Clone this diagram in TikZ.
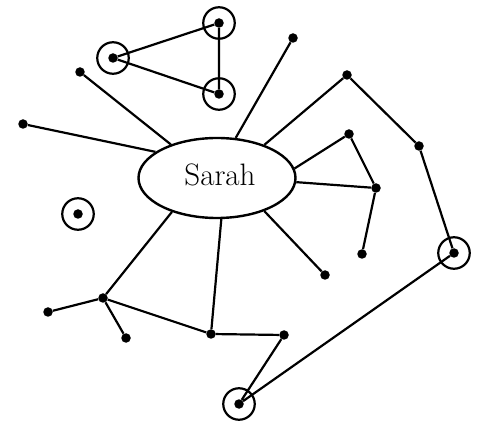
\documentclass[tikz,border=0pt]{standalone}
\usetikzlibrary{shapes.geometric}
\begin{document}
\begin{tikzpicture}[x=1pt,y=-1pt,
  dot/.style={circle,fill=black,inner sep=0pt,minimum size=9.5pt},
  ring/.style={circle,draw=black,line width=2.2pt,inner sep=0pt,minimum size=31.5pt},
  edge/.style={line width=2.2pt},
  hub/.style={ellipse,draw=black,line width=2.4pt,inner sep=0pt,minimum width=157pt,minimum height=80pt},
  hubtext/.style={inner sep=0pt,font=\fontsize{31}{37}\selectfont}]
\useasboundingbox (0,0) rectangle (485,422);
\node[hub] (S) at (217,178) {};
\node[hubtext,anchor=base] (St) at (220,185.7) {Sarah};
\node[dot] (A) at (219,23) {};
\node[dot] (B) at (113,58) {};
\node[dot] (C) at (219,94) {};
\node[dot] (D) at (293,38) {};
\node[dot] (E) at (80,72) {};
\node[dot] (F) at (23,124) {};
\node[dot] (G) at (347,75) {};
\node[dot] (H) at (349,134) {};
\node[dot] (I) at (419,146) {};
\node[dot] (J) at (376,188) {};
\node[dot] (K) at (78,214) {};
\node[dot] (L) at (362,254) {};
\node[dot] (M) at (454,253) {};
\node[dot] (N) at (325,275) {};
\node[dot] (O) at (103,298) {};
\node[dot] (P) at (48,312) {};
\node[dot] (Q) at (126,338) {};
\node[dot] (R) at (211,334) {};
\node[dot] (T) at (284,335) {};
\node[dot] (U) at (239,404) {};
\node[ring] (Ar) at (A) {};
\node[ring] (Br) at (B) {};
\node[ring] (Cr) at (C) {};
\node[ring] (Kr) at (K) {};
\node[ring] (Mr) at (M) {};
\node[ring] (Ur) at (U) {};
\draw[edge] (A) -- (B) -- (C) -- (A);
\foreach \n/\a in {D/65.1,E/144.9,F/157.3,G/35.3,H/7.9,J/-3.5,N/-35.8,R/-84.4,O/-143.5}
  \draw[edge] (S.\a) -- (\n);
\draw[edge] (G) -- (I) -- (M) -- (U) -- (T) -- (R) -- (O) -- (P);
\draw[edge] (O) -- (Q);
\draw[edge] (H) -- (J) -- (L);
\end{tikzpicture}
\end{document}
